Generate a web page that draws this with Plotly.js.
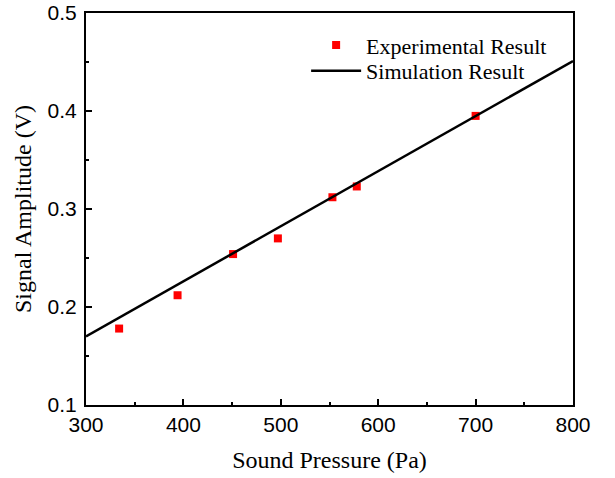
<!DOCTYPE html>
<html>
<head>
<meta charset="utf-8">
<script src="https://cdn.plot.ly/plotly-3.0.1.min.js"></script>
<style>html,body{margin:0;padding:0;background:#fff;}#chart{width:615px;height:478px;}</style>
</head>
<body>
<div id="chart"></div>
<script>
// Experimental data
const expPressure = [334, 394, 451, 497, 553, 578, 700];
const expAmplitude = [0.178, 0.212, 0.254, 0.270, 0.312, 0.323, 0.395];
// Simulation (linear) result
const simPressure = [300, 800];
const simAmplitude = [0.170, 0.451];
// Axis ticks
const xTicks = [300, 400, 500, 600, 700, 800];
const yTicks = [0.1, 0.2, 0.3, 0.4, 0.5];

const serif = "Liberation Serif, Times New Roman, serif";
const sans = "Liberation Sans, Arial, sans-serif";

const traces = [
  {
    x: expPressure, y: expAmplitude, type: 'scatter', mode: 'markers',
    name: 'Experimental Result', legend: 'legend',
    marker: {symbol: 'square', size: 8, color: '#ff0000'}
  },
  {
    x: simPressure, y: simAmplitude, type: 'scatter', mode: 'lines',
    name: 'Simulation Result', legend: 'legend2',
    line: {color: '#000000', width: 2.5}
  }
];

const axisCommon = {
  showgrid: false, zeroline: false,
  showline: true, linecolor: '#000', linewidth: 2, mirror: true,
  ticks: 'inside', ticklen: 6, tickwidth: 2, tickcolor: '#000',
  tickfont: {family: sans, size: 21, color: '#000'},
  minor: {ticks: 'inside', ticklen: 3, tickwidth: 2, tickcolor: '#000'}
};

const legendCommon = {
  xanchor: 'left', yanchor: 'middle',
  bgcolor: 'rgba(0,0,0,0)', borderwidth: 0,
  font: {family: serif, size: 22, color: '#000'},
  itemwidth: 50
};

const layout = {
  width: 615, height: 478,
  margin: {l: 86, r: 42, t: 13, b: 73},
  paper_bgcolor: '#fff', plot_bgcolor: '#fff',
  xaxis: Object.assign({}, axisCommon, {
    range: [300, 800], tickvals: xTicks, ticktext: xTicks.map(String),
    minor: Object.assign({}, axisCommon.minor, {dtick: 50, tick0: 300}),
    title: {text: 'Sound Pressure (Pa)', font: {family: serif, size: 24, color: '#000'}, standoff: 16}
  }),
  yaxis: Object.assign({}, axisCommon, {
    range: [0.1, 0.5], tickvals: yTicks, ticktext: yTicks.map(v => v.toFixed(1)),
    ticklabelstandoff: 3,
    minor: Object.assign({}, axisCommon.minor, {dtick: 0.05, tick0: 0.1}),
    title: {text: 'Signal Amplitude (V)', font: {family: serif, size: 24, color: '#000'}, standoff: 9}
  }),
  showlegend: true,
  legend: Object.assign({}, legendCommon, {x: 0.452, y: 0.918}),
  legend2: Object.assign({}, legendCommon, {x: 0.452, y: 0.852})
};

Plotly.newPlot('chart', traces, layout, {displayModeBar: false, staticPlot: true});
</script>
</body>
</html>
